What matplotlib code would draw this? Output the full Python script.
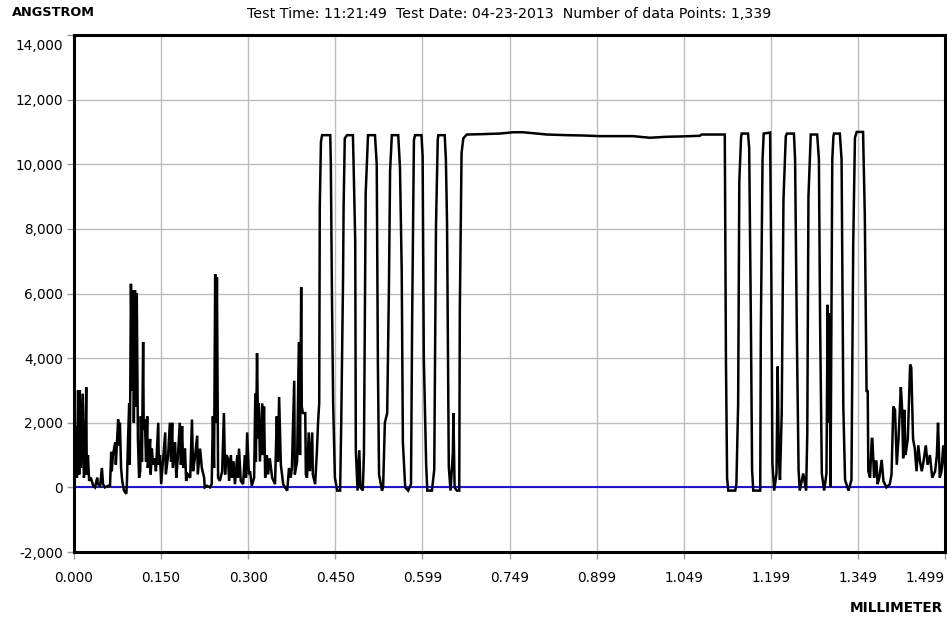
"""Stylus profile trace (Angstrom vs millimeter), redrawn from a profilometer screenshot."""
import numpy as np
import matplotlib.pyplot as plt
from matplotlib.transforms import ScaledTranslation

# --- trace vertices (mm, Angstrom) ---
left_noise_x = [0.000, 0.002, 0.003, 0.005, 0.007, 0.009, 0.010, 0.012, 0.015, 0.017,
                0.019, 0.021, 0.022, 0.024, 0.026, 0.029, 0.033, 0.036, 0.040, 0.041,
                0.045, 0.048, 0.050, 0.053, 0.059, 0.062, 0.064, 0.065, 0.067, 0.071,
                0.072, 0.076, 0.077, 0.079, 0.081, 0.083, 0.086, 0.090, 0.091, 0.093,
                0.095, 0.096, 0.098, 0.100, 0.102, 0.103, 0.105, 0.107, 0.108, 0.110,
                0.112, 0.114, 0.115, 0.117, 0.119, 0.120, 0.122, 0.124, 0.126, 0.127,
                0.129, 0.131, 0.132, 0.134, 0.136, 0.139, 0.141, 0.145, 0.146, 0.148,
                0.150, 0.153, 0.157, 0.158, 0.162, 0.165, 0.167, 0.169, 0.170, 0.174,
                0.176, 0.179, 0.182, 0.184, 0.186, 0.188, 0.191, 0.193, 0.196, 0.200,
                0.203, 0.205, 0.208, 0.212, 0.213, 0.217, 0.220, 0.224, 0.225, 0.229,
                0.234, 0.237, 0.239, 0.241, 0.243, 0.244, 0.246, 0.248, 0.251, 0.255,
                0.258, 0.260, 0.262, 0.265, 0.267, 0.270, 0.272, 0.274, 0.277, 0.281,
                0.282, 0.284, 0.287, 0.291, 0.294, 0.296, 0.298, 0.301, 0.303, 0.306,
                0.310, 0.312, 0.313, 0.315, 0.317, 0.318, 0.320, 0.324, 0.325, 0.327,
                0.329, 0.332, 0.334, 0.337, 0.341, 0.346, 0.349, 0.351, 0.353, 0.356,
                0.360, 0.363, 0.367, 0.370, 0.373, 0.375, 0.379, 0.380, 0.384, 0.387,
                0.389, 0.391, 0.392, 0.394, 0.398, 0.399, 0.401, 0.404, 0.406, 0.410,
                0.411, 0.415, 0.418, 0.420, 0.422]
left_noise_y = [2100, 500, 1900, 300, 3000, 400, 3000, 600, 2900, 300,
                600, 3100, 400, 1000, 200, 300, 50, 0, 300, 100,
                50, 600, 100, 0, 50, 50, 1100, 500, 1000, 1400,
                700, 2100, 1300, 2000, 600, 200, -100, -200, 100, 1500,
                2600, 700, 6300, 3000, 6100, 2000, 6100, 2500, 6000, 1500,
                300, 500, 2200, 800, 4500, 1800, 2100, 800, 2200, 600,
                1000, 1500, 400, 1200, 700, 900, 500, 2000, 700, 1000,
                100, 800, 1700, 400, 1000, 2000, 800, 2000, 600, 1400,
                300, 1000, 2000, 700, 1900, 600, 1200, 200, 400, 300,
                2100, 500, 900, 1600, 400, 1200, 600, 300, 0, 50,
                0, 100, 2200, 600, 6600, 2000, 6500, 300, 200, 500,
                2300, 400, 1000, 900, 200, 1000, 300, 800, 100, 1000,
                300, 1200, 200, 100, 1000, 300, 1700, 400, 500, 50,
                300, 2900, 800, 4150, 1500, 2600, 800, 2600, 1000, 2500,
                300, 1000, 400, 900, 300, 100, 2200, 800, 2800, 700,
                100, 0, -100, 600, 300, 600, 3300, 400, 800, 4500,
                1000, 6200, 2500, 2300, 2300, 400, 300, 1700, 500, 1700,
                400, 100, 1100, 2000, 2600]

left_steps_x = [0.423, 0.425, 0.427, 0.441, 0.442, 0.444, 0.446, 0.449, 0.453, 0.458,
                0.460, 0.463, 0.464, 0.466, 0.470, 0.480, 0.481, 0.484, 0.485, 0.488,
                0.491, 0.493, 0.497, 0.499, 0.502, 0.506, 0.518, 0.521, 0.523, 0.525,
                0.530, 0.532, 0.535, 0.539, 0.542, 0.544, 0.547, 0.558, 0.561, 0.564,
                0.566, 0.570, 0.575, 0.580, 0.582, 0.585, 0.587, 0.598, 0.600, 0.602,
                0.606, 0.608, 0.616, 0.620, 0.623, 0.626, 0.627, 0.638, 0.640, 0.642,
                0.645, 0.648, 0.652, 0.653, 0.655, 0.659, 0.663, 0.664, 0.667, 0.670]
left_steps_y = [8700, 10700, 10900, 10900, 10000, 5800, 2600, 300, -100, -100,
                2100, 6400, 8700, 10800, 10900, 10900, 10150, 7600, 1150, -100,
                1150, 0, -100, 1050, 9100, 10900, 10900, 10000, 3800, 400,
                -100, 0, 2000, 2300, 6200, 9800, 10900, 10900, 9900, 6700,
                1400, 0, -100, 100, 5300, 10750, 10900, 10900, 10250, 4050,
                750, -100, -100, 550, 8100, 10750, 10900, 10900, 10150, 8200,
                650, -100, 1050, 2300, 0, -100, -100, 5500, 10350, 10800]

plateau_x = [0.676, 0.699, 0.733, 0.756, 0.773, 0.790, 0.814, 0.848, 0.876, 0.905,
             0.962, 0.991, 1.020, 1.043, 1.077, 1.080, 1.100, 1.120]
plateau_y = [10920, 10930, 10950, 10990, 10990, 10960, 10920, 10900, 10890, 10870,
             10870, 10820, 10850, 10860, 10880, 10920, 10920, 10920]

right_steps_x = [1.122, 1.124, 1.126, 1.138, 1.140, 1.143, 1.145, 1.148, 1.149, 1.160,
                 1.162, 1.165, 1.167, 1.169, 1.181, 1.182, 1.185, 1.187, 1.198, 1.200,
                 1.202, 1.205, 1.209, 1.211, 1.213, 1.215, 1.218, 1.221, 1.225, 1.227,
                 1.239, 1.241, 1.244, 1.247, 1.249, 1.255, 1.260, 1.262, 1.264, 1.268,
                 1.279, 1.282, 1.284, 1.287, 1.291, 1.295, 1.297, 1.299, 1.300, 1.302,
                 1.305, 1.307, 1.308, 1.318, 1.321, 1.324, 1.327, 1.333, 1.338, 1.341,
                 1.344, 1.347, 1.358, 1.361, 1.364]
right_steps_y = [3950, 280, -100, -100, 100, 2600, 9470, 10820, 10950, 10950,
                 10500, 4980, 540, -100, -100, 4770, 10150, 10950, 10980, 6840,
                 740, -100, 430, 3740, 1000, 230, 2300, 8900, 10870, 10950,
                 10950, 10150, 4770, 540, -100, 430, -100, 1670, 9000, 10920,
                 10920, 10150, 5190, 430, -100, 430, 5650, 2000, 5390, 20,
                 10150, 10870, 10950, 10950, 10150, 2500, 230, -100, 230, 7460,
                 10820, 11000, 11000, 8390, 2960]

right_noise_x = [1.366, 1.367, 1.370, 1.373, 1.374, 1.377, 1.379, 1.381, 1.383, 1.386,
                 1.390, 1.393, 1.398, 1.404, 1.407, 1.410, 1.413, 1.416, 1.419, 1.423,
                 1.425, 1.427, 1.429, 1.431, 1.435, 1.439, 1.441, 1.444, 1.447, 1.450,
                 1.453, 1.456, 1.459, 1.462, 1.466, 1.469, 1.473, 1.477, 1.482, 1.485,
                 1.487, 1.490, 1.493, 1.496, 1.499]
right_noise_y = [3000, 500, 300, 1500, 1500, 300, 800, 800, 100, 300,
                 850, 200, 0, 100, 400, 2500, 2400, 700, 1500, 3100,
                 2500, 900, 2400, 1000, 1500, 3800, 3700, 1500, 1200, 500,
                 1300, 800, 500, 800, 1300, 700, 1000, 300, 500, 1000,
                 2000, 300, 500, 1300, 600]

x_ticks_lbl = ["0.000", "0.150", "0.300", "0.450", "0.599", "0.749",
               "0.899", "1.049", "1.199", "1.349", "1.499"]
y_ticks = [-2000, 0, 2000, 4000, 6000, 8000, 10000, 12000, 14000]
header = "Test Time: 11:21:49  Test Date: 04-23-2013  Number of data Points: 1,339"

x = np.concatenate([left_noise_x, left_steps_x, plateau_x, right_steps_x, right_noise_x])
y = np.concatenate([left_noise_y, left_steps_y, plateau_y, right_steps_y, right_noise_y])

plt.rcParams["font.family"] = "DejaVu Sans"
fig = plt.figure(figsize=(9.47, 6.19), dpi=100)
ax = fig.add_axes([74 / 947, 1 - 552 / 619, 871 / 947, 517 / 619])

ax.axhline(0, color="#0000ff", lw=1.3, zorder=2)
ax.plot(x, y, color="black", lw=1.8, solid_joinstyle="miter", zorder=3)

ax.set_xlim(0, 1.499)
ax.set_ylim(-2000, 14000)
ax.set_xticks(np.linspace(0, 1.499, 11))
ax.set_xticklabels(x_ticks_lbl)
ax.set_yticks(y_ticks)
ax.set_yticklabels([f"{v:,}" for v in y_ticks])
ax.grid(True, color="#bdbdbd", lw=1)
ax.set_axisbelow(True)
ax.tick_params(axis="both", direction="out", length=5, width=1, color="#9a9a9a",
               labelsize=9.8, labelcolor="black")
ax.tick_params(axis="x", pad=9)
ax.tick_params(axis="y", pad=3)
for s in ax.spines.values():
    s.set_linewidth(2.2)
    s.set_color("black")

# edge labels nudged inside the figure like the original
fig.canvas.draw()
ax.get_yticklabels()[-1].set_transform(
    ax.get_yticklabels()[-1].get_transform() + ScaledTranslation(0, -0.10, fig.dpi_scale_trans))
ax.get_xticklabels()[-1].set_horizontalalignment("right")

fig.text(12 / 947, 1 - 13 / 619, "ANGSTROM", fontsize=9.3, fontweight="bold",
         ha="left", va="center")
fig.text(509.5 / 947, 1 - 14 / 619, header, fontsize=10.2, ha="center", va="center")
fig.text(943 / 947, 1 - 608 / 619, "MILLIMETER", fontsize=9.8, fontweight="bold",
         ha="right", va="center")

fig.savefig("out.png", dpi=100)
